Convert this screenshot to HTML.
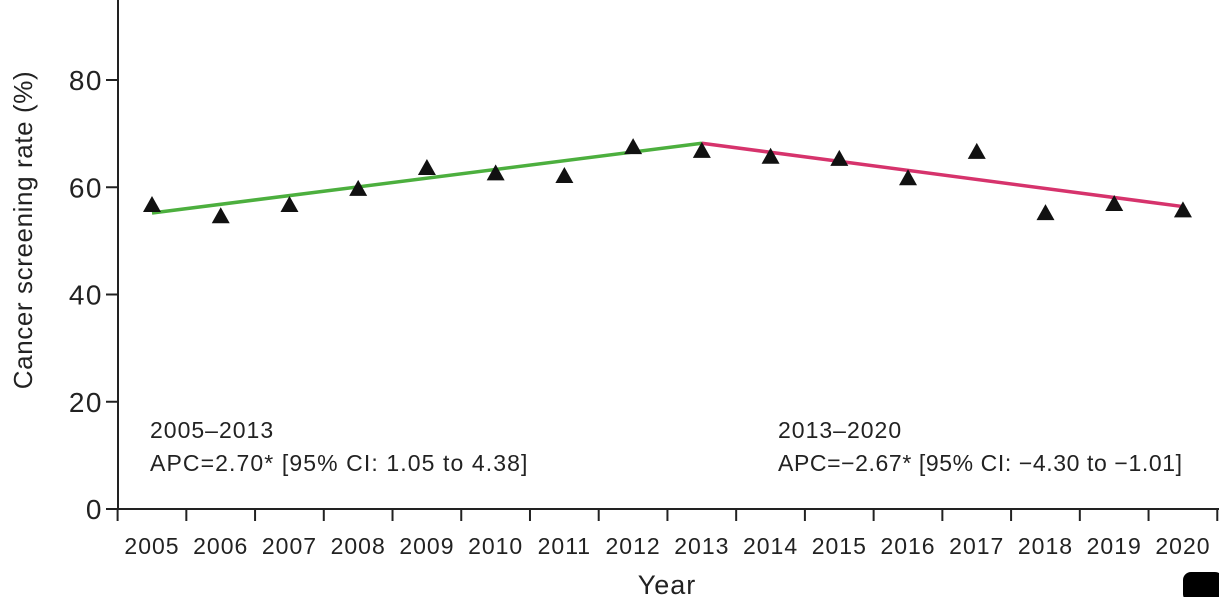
<!DOCTYPE html>
<html><head><meta charset="utf-8"><style>
body{margin:0;background:#fff}
svg text{font-family:"Liberation Sans",sans-serif;fill:#222}
</style></head><body>
<svg id="c" width="1219" height="597" xmlns="http://www.w3.org/2000/svg">
<g id="axes"></g><g id="marks"></g>
<text x="150" y="438" font-size="23" letter-spacing="1">2005–2013</text>
<text x="150" y="471" font-size="23" letter-spacing="1.1">APC=2.70* [95% CI: 1.05 to 4.38]</text>
<text x="778" y="438" font-size="23" letter-spacing="1">2013–2020</text>
<text x="778" y="471" font-size="23" letter-spacing="0.6">APC=−2.67* [95% CI: −4.30 to −1.01]</text>
<text x="667" y="594" font-size="27" letter-spacing="1" text-anchor="middle">Year</text>
<text transform="translate(32,230) rotate(-90)" font-size="26" letter-spacing="0.6" text-anchor="middle">Cancer screening rate (%)</text>
<rect x="1183" y="572" width="40" height="30" rx="8" fill="#000"/>
</svg>
<script>
const years=[2005,2006,2007,2008,2009,2010,2011,2012,2013,2014,2015,2016,2017,2018,2019,2020];
const rates=[56.5,54.4,56.5,59.5,63.4,62.4,61.9,67.3,66.6,65.5,65.1,61.5,66.4,55.0,56.7,55.5];
const yTicks=[0,20,40,60,80];
const seg1=[[2005,55.2],[2013,68.2]];
const seg2=[[2013,68.2],[2020,56.4]];
const NS="http://www.w3.org/2000/svg";
const X=yr=>152+(yr-2005)*68.73;
const Y=v=>509-v*5.3625;
const ax=document.getElementById('axes'),mk=document.getElementById('marks');
function el(t,a,p){const e=document.createElementNS(NS,t);for(const k in a)e.setAttribute(k,a[k]);p.appendChild(e);return e;}
let yl=el('line',{x1:118,y1:0,x2:118,y2:510,stroke:'#222','stroke-width':2},ax);


let xl=el('line',{x1:117,y1:509,x2:1219,y2:509,stroke:'#222','stroke-width':2},ax);


yTicks.forEach(v=>{
 let t=el('line',{x1:106,x2:118,y1:Y(v),y2:Y(v),stroke:'#222','stroke-width':2},ax);
 
 
 let l=el('text',{x:103,y:Y(v)+10,'font-size':28,'letter-spacing':1.5,'text-anchor':'end'},ax);l.textContent=v;
 
 
});
years.forEach((yr,i)=>{
 let tx=X(yr)-34.4;
 let t=el('line',{x1:tx,x2:tx,y1:509,y2:521,stroke:'#222','stroke-width':2},ax);
 
 
 if(i==years.length-1){let t2=el('line',{x1:tx+68.73,x2:tx+68.73,y1:509,y2:521,stroke:'#222','stroke-width':2},ax);
 
 }
 let l=el('text',{x:X(yr),y:554,'font-size':23,'letter-spacing':1,'text-anchor':'middle'},ax);l.textContent=yr;
 
 
});
function seg(s,c,n){let p=el('line',{x1:X(s[0][0]),y1:Y(s[0][1]),x2:X(s[1][0]),y2:Y(s[1][1]),stroke:c,'stroke-width':3.5},mk);
 
 }
seg(seg1,'#4caf3e','trend-line-2005-2013');
seg(seg2,'#d6336c','trend-line-2013-2020');
years.forEach((yr,i)=>{
 const x=X(yr),y=Y(rates[i]);
 let p=el('polygon',{points:`${x},${y-10} ${x-9},${y+6} ${x+9},${y+6}`,fill:'#111'},mk);
 
 
});
</script>
</body></html>
